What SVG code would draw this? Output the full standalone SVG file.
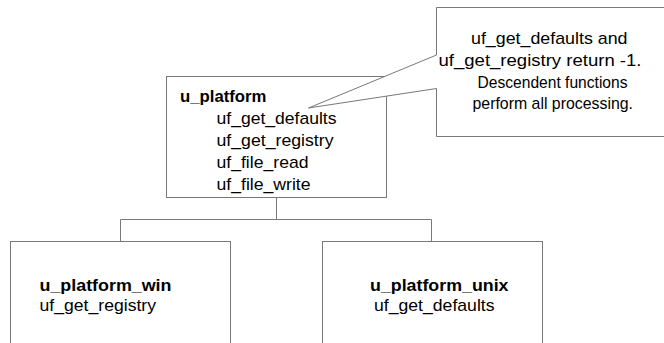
<svg xmlns="http://www.w3.org/2000/svg" width="664" height="343" viewBox="0 0 664 343">
<style>
.box{fill:#ffffff;stroke:#787878;stroke-width:1}
.conn{fill:none;stroke:#787878;stroke-width:1}
.t{font-family:"Liberation Sans",Arial,sans-serif;font-size:17px;fill:#000000}
.b{font-weight:bold}
</style>
<rect width="664" height="343" fill="#ffffff"/>
<g id="connectors">
<path class="conn" d="M276.5,197.5 V219.5 M120.5,219.5 H431.5 M120.5,219.5 V241.5 M431.5,219.5 V241.5"/>
</g>
<g id="u_platform">
<rect class="box" x="166.5" y="76.5" width="220" height="121"/>
<text class="t b" x="180" y="102" textLength="86.5" lengthAdjust="spacingAndGlyphs">u_platform</text>
<text class="t" x="216.5" y="124" textLength="120" lengthAdjust="spacingAndGlyphs">uf_get_defaults</text>
<text class="t" x="216.5" y="146" textLength="117" lengthAdjust="spacingAndGlyphs">uf_get_registry</text>
<text class="t" x="216.5" y="168" textLength="92" lengthAdjust="spacingAndGlyphs">uf_file_read</text>
<text class="t" x="216.5" y="190" textLength="94" lengthAdjust="spacingAndGlyphs">uf_file_write</text>
</g>
<g id="callout">
<polygon class="box" points="436.5,7.5 666,7.5 666,136.5 436.5,136.5 436.5,88.5 308.5,108 436.5,55"/>
<text class="t" x="471" y="44" textLength="156.5" lengthAdjust="spacingAndGlyphs">uf_get_defaults and</text>
<text class="t" x="438.5" y="65.5" textLength="203" lengthAdjust="spacingAndGlyphs">uf_get_registry return -1.</text>
<text class="t" x="477.5" y="87.5" textLength="150" lengthAdjust="spacingAndGlyphs">Descendent functions</text>
<text class="t" x="472.5" y="109" textLength="160.5" lengthAdjust="spacingAndGlyphs">perform all processing.</text>
</g>
<g id="u_platform_win">
<rect class="box" x="10.5" y="241.5" width="220" height="120"/>
<text class="t b" x="39.5" y="290.5" textLength="132" lengthAdjust="spacingAndGlyphs">u_platform_win</text>
<text class="t" x="39.5" y="310.5" textLength="116.5" lengthAdjust="spacingAndGlyphs">uf_get_registry</text>
</g>
<g id="u_platform_unix">
<rect class="box" x="322.5" y="241.5" width="220" height="120"/>
<text class="t b" x="370" y="290.5" textLength="138.5" lengthAdjust="spacingAndGlyphs">u_platform_unix</text>
<text class="t" x="374" y="310.5" textLength="120.5" lengthAdjust="spacingAndGlyphs">uf_get_defaults</text>
</g>
</svg>
